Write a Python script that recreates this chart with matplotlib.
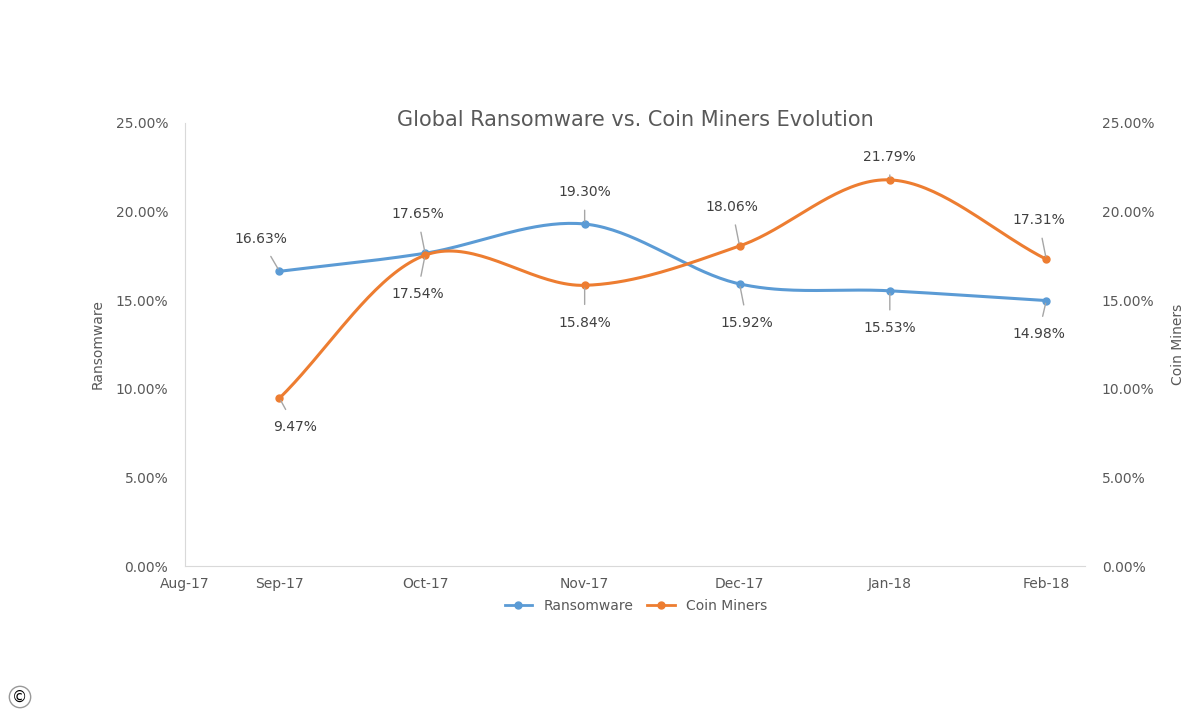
import numpy as np
import matplotlib
matplotlib.use("Agg")
import matplotlib.pyplot as plt
from matplotlib.ticker import FuncFormatter

tick_labels = ["Aug-17", "Sep-17", "Oct-17", "Nov-17", "Dec-17", "Jan-18", "Feb-18"]
months = ["Sep-17", "Oct-17", "Nov-17", "Dec-17", "Jan-18", "Feb-18"]
ransomware = [16.63, 17.65, 19.30, 15.92, 15.53, 14.98]
coin_miners = [9.47, 17.54, 15.84, 18.06, 21.79, 17.31]
# tick positions (layout)
tick_pos = [0.0, 0.61, 1.55, 2.58, 3.58, 4.55, 5.56]
xpos = tick_pos[1:]

def smooth(x, y, n=40):
    x = np.asarray(x, float); y = np.asarray(y, float)
    px = np.concatenate([[2*x[0]-x[1]], x, [2*x[-1]-x[-2]]])
    py = np.concatenate([[2*y[0]-y[1]], y, [2*y[-1]-y[-2]]])
    ox, oy = [], []
    for i in range(1, len(px)-2):
        t = np.linspace(0, 1, n)
        for arr, out in ((px, ox), (py, oy)):
            p0, p1, p2, p3 = arr[i-1], arr[i], arr[i+1], arr[i+2]
            m1 = (p2 - p0) / 2; m2 = (p3 - p1) / 2
            h00 = 2*t**3 - 3*t**2 + 1; h10 = t**3 - 2*t**2 + t
            h01 = -2*t**3 + 3*t**2; h11 = t**3 - t**2
            out.extend(h00*p1 + h10*m1 + h01*p2 + h11*m2)
    return np.array(ox), np.array(oy)

blue = "#5b9bd5"; orange = "#ed7d31"
fig = plt.figure(figsize=(12, 7.2), dpi=100)
ax = fig.add_axes([185/1200, 1-566/720, 900/1200, 443/720])
ax2 = ax.twinx()
for a in (ax, ax2):
    a.set_ylim(0, 25)
    a.yaxis.set_major_locator(plt.MultipleLocator(5))
    a.yaxis.set_major_formatter(FuncFormatter(lambda v, p: f"{v:.2f}%"))
    a.tick_params(length=0, labelsize=10, labelcolor="#595959", pad=12)
    for s in a.spines.values():
        s.set_visible(False)
ax.set_xlim(tick_pos[0], 5.81)
ax.spines["bottom"].set_visible(True); ax.spines["bottom"].set_color("#d9d9d9")
ax.spines["left"].set_visible(True); ax.spines["left"].set_color("#d9d9d9")
ax.set_xticks(tick_pos); ax.set_xticklabels(tick_labels)
ax.tick_params(axis="x", pad=8)

sx, sy = smooth(xpos, ransomware)
ax.plot(sx, sy, color=blue, lw=2.2)
ax.plot(xpos, ransomware, "o", color=blue, ms=5)
cx, cy = smooth(xpos, coin_miners)
ax2.plot(cx, cy, color=orange, lw=2.2)
ax2.plot(xpos, coin_miners, "o", color=orange, ms=5)

r_off = [(-0.12, 1.8), (-0.05, 2.2), (0.0, 1.8), (0.05, -2.2), (0.0, -2.1), (-0.05, -1.9)]
c_off = [(0.1, -1.6), (-0.05, -2.2), (0.0, -2.1), (-0.05, 2.2), (0.0, 1.3), (-0.05, 2.2)]
for a, ys, offs in ((ax, ransomware, r_off), (ax2, coin_miners, c_off)):
    for x, y, (dx, dy) in zip(xpos, ys, offs):
        a.annotate(f"{y:.2f}%", xy=(x, y), xytext=(x+dx, y+dy), ha="center", va="center",
                   fontsize=10, color="#404040",
                   arrowprops=dict(arrowstyle="-", color="#a6a6a6", lw=1, shrinkA=6, shrinkB=2))

ax.set_ylabel("Ransomware", fontsize=10, color="#595959", labelpad=8)
ax2.set_ylabel("Coin Miners", fontsize=10, color="#595959", labelpad=12)
fig.text(635/1200, 1-120/720, "Global Ransomware vs. Coin Miners Evolution", ha="center", va="center",
         fontsize=15, color="#595959")
from matplotlib.lines import Line2D
h = [Line2D([], [], color=blue, marker="o", ms=5, lw=2), Line2D([], [], color=orange, marker="o", ms=5, lw=2)]
fig.legend(h, ["Ransomware", "Coin Miners"], loc="center", bbox_to_anchor=(636/1200, 1-606/720), ncol=2,
           frameon=False, fontsize=10, handlelength=2, columnspacing=1, labelcolor="#595959")
fig.text(20/1200, 1-697/720, "©", fontsize=11, ha="center", va="center",
         bbox=dict(boxstyle="circle,pad=0.2", fc="white", ec="#999999"))
fig.savefig("out.png", dpi=100)
